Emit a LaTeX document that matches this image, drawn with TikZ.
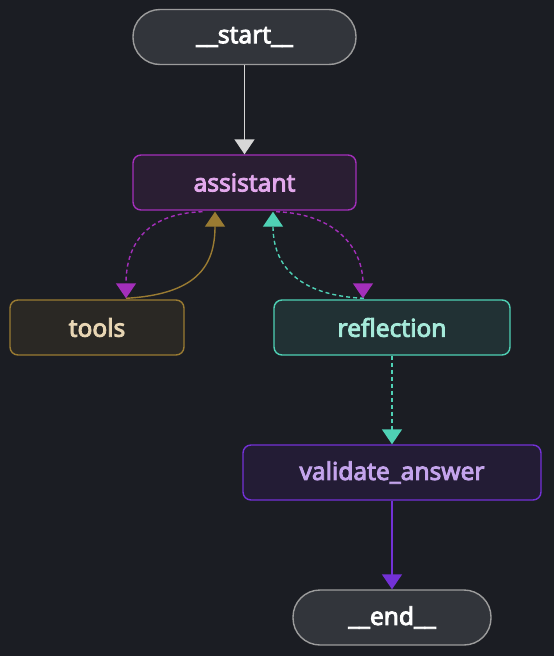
\documentclass[tikz,border=0pt]{standalone}
\usepackage{fontspec}
\setmainfont[FakeBold=3.5]{Noto Sans}
\usetikzlibrary{arrows.meta,calc}
\definecolor{bg}{HTML}{1B1D23}
\definecolor{termfill}{HTML}{32353B}
\definecolor{termline}{HTML}{9C9C9C}
\definecolor{asfill}{HTML}{2A1E33}
\definecolor{asline}{HTML}{A32FBA}
\definecolor{astext}{HTML}{E2A8EC}
\definecolor{tofill}{HTML}{2A2824}
\definecolor{toline}{HTML}{9A7B32}
\definecolor{totext}{HTML}{E8D6B4}
\definecolor{refill}{HTML}{213134}
\definecolor{reline}{HTML}{4FD1B5}
\definecolor{retext}{HTML}{A6EADA}
\definecolor{vafill}{HTML}{231C35}
\definecolor{valine}{HTML}{7331D6}
\definecolor{vatext}{HTML}{C4A4EC}
\tikzset{
  box/.style={draw, line width=1.4pt, rounded corners=8pt, minimum height=55pt,
    inner sep=0pt, font=\fontsize{24.5}{28}\selectfont},
  term/.style={box, rounded corners=27pt, fill=termfill, draw=termline, text=white},
  edge/.style={line width=1.4pt, -{Triangle[width=20pt,length=15pt]}},
  dsh/.style={dash pattern=on 4pt off 3pt},
}
\begin{document}
\begin{tikzpicture}[x=1pt,y=-1pt]
\fill[bg] (0,0) rectangle (554,656);
\useasboundingbox (0,0) rectangle (554,656);
\node[term, minimum width=223pt] (start) at (244.5,37) {\_\_start\_\_};
\node[box, fill=asfill, draw=asline, text=astext, minimum width=223pt] (assistant) at (244.5,182.5) {assistant};
\node[box, fill=tofill, draw=toline, text=totext, minimum width=174pt] (tools) at (97,327.5) {tools};
\node[box, fill=refill, draw=reline, text=retext, minimum width=236pt] (reflection) at (392,327.5) {reflection};
\node[box, fill=vafill, draw=valine, text=vatext, minimum width=298pt] (validate) at (392,472.5) {validate\_answer};
\node[term, minimum width=198pt] (end) at (392,617.5) {\_\_end\_\_};

\draw[edge, white, draw=termline!40!white] (start) -- (assistant);
\draw[edge, asline, dsh] ($(assistant.south)+(-42,1)$) .. controls +(-60,2) and +(0,-50) .. ($(tools.north)+(29,-1)$);
\draw[edge, toline] ($(tools.north)+(29,-1)$) .. controls +(70,-4) and +(0,55) .. ($(assistant.south)+(-29.5,1)$);
\draw[edge, reline, dsh] ($(reflection.north)+(-28,-1)$) .. controls +(-70,-3) and +(0,50) .. ($(assistant.south)+(28.5,1)$);
\draw[edge, asline, dsh] ($(assistant.south)+(31.5,1)$) .. controls +(60,2) and +(0,-50) .. ($(reflection.north)+(-29,-1)$);
\draw[edge, reline, dsh] (reflection) -- (validate);
\draw[edge, valine] (validate) -- (end);
\end{tikzpicture}
\end{document}
